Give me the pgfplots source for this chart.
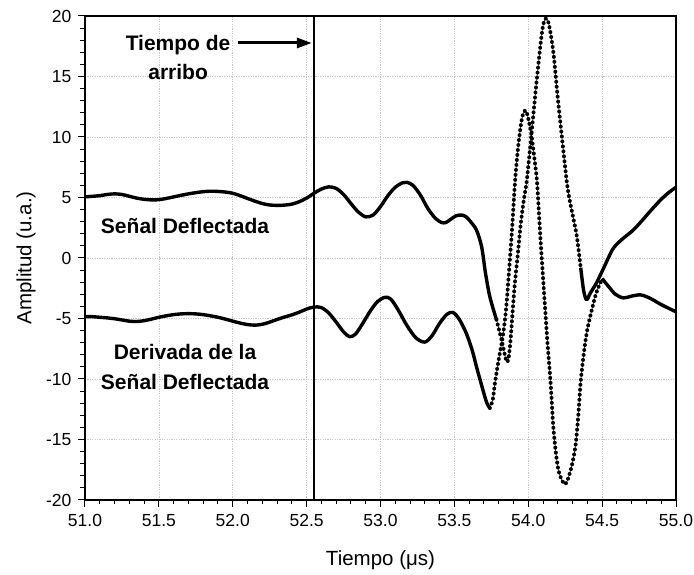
\documentclass[border=0pt]{standalone}
\usepackage{pgfplots}
\pgfplotsset{compat=1.18}
\usepackage{pgfplotstable}
\usepackage{fontspec}
\setmainfont{Liberation Sans}
\usetikzlibrary{arrows.meta}

% Deflected signal (offset +5)
\pgfplotstableread{
t a
51.00 5.05
51.05 5.10
51.10 5.15
51.15 5.25
51.20 5.30
51.25 5.25
51.30 5.10
51.35 4.95
51.40 4.85
51.45 4.80
51.50 4.82
51.55 4.92
51.60 5.05
51.65 5.18
51.70 5.30
51.75 5.40
51.80 5.48
51.85 5.52
51.90 5.50
51.95 5.45
52.00 5.35
52.05 5.15
52.10 4.92
52.15 4.70
52.20 4.50
52.25 4.38
52.30 4.35
52.35 4.37
52.40 4.45
52.45 4.65
52.50 4.95
52.55 5.35
52.60 5.70
52.65 5.88
52.70 5.75
52.75 5.25
52.80 4.50
52.85 3.80
52.90 3.40
52.95 3.55
53.00 4.25
53.05 5.15
53.10 5.85
53.15 6.22
53.18 6.25
53.22 6.00
53.27 5.20
53.32 4.10
53.37 3.30
53.41 2.95
53.44 2.92
53.47 3.15
53.51 3.48
53.55 3.55
53.58 3.40
53.61 3.00
53.65 2.30
53.685 0.90
53.71 -1.20
53.74 -3.20
53.785 -5.10
53.82 -6.80
53.845 -8.20
53.857 -8.60
53.868 -8.20
53.88 -6.80
53.895 -4.30
53.91 -2.00
53.93 0.40
53.95 2.90
53.97 4.80
53.99 6.40
54.02 10.00
54.05 13.80
54.08 17.30
54.10 19.20
54.12 19.80
54.14 19.30
54.17 17.00
54.20 13.20
54.225 10.30
54.26 6.40
54.28 4.80
54.31 3.00
54.33 1.70
54.355 -0.80
54.375 -2.70
54.395 -3.45
54.42 -2.90
54.46 -2.10
54.50 -1.10
54.54 -0.05
54.57 0.70
54.60 1.15
54.65 1.70
54.71 2.30
54.76 2.95
54.81 3.65
54.85 4.20
54.90 4.85
54.95 5.40
55.00 5.85
}\senal

% Derivative of the deflected signal (offset -5)
\pgfplotstableread{
t d
51.00 -4.85
51.05 -4.85
51.10 -4.90
51.15 -4.95
51.20 -5.02
51.25 -5.12
51.30 -5.22
51.35 -5.25
51.40 -5.18
51.45 -5.05
51.50 -4.90
51.55 -4.78
51.60 -4.68
51.65 -4.62
51.70 -4.60
51.75 -4.62
51.80 -4.68
51.85 -4.78
51.90 -4.90
51.95 -5.05
52.00 -5.22
52.05 -5.38
52.10 -5.50
52.15 -5.55
52.20 -5.48
52.25 -5.30
52.30 -5.08
52.35 -4.88
52.40 -4.70
52.45 -4.48
52.50 -4.22
52.55 -4.05
52.60 -4.10
52.65 -4.55
52.70 -5.30
52.75 -6.10
52.79 -6.50
52.83 -6.30
52.88 -5.40
52.93 -4.40
52.98 -3.60
53.03 -3.25
53.07 -3.40
53.12 -4.30
53.18 -5.60
53.24 -6.60
53.30 -6.95
53.35 -6.40
53.40 -5.40
53.45 -4.65
53.49 -4.50
53.53 -5.00
53.58 -6.20
53.62 -7.60
53.65 -9.00
53.70 -11.20
53.72 -12.00
53.74 -12.40
53.76 -11.70
53.775 -10.30
53.80 -8.40
53.83 -6.30
53.85 -4.20
53.865 -1.90
53.89 2.30
53.91 6.20
53.93 9.00
53.95 11.00
53.965 11.90
53.98 12.20
53.995 11.80
54.02 10.30
54.04 8.40
54.06 6.20
54.08 2.10
54.10 -1.60
54.115 -4.30
54.13 -7.00
54.15 -10.10
54.17 -14.00
54.19 -16.40
54.21 -17.80
54.25 -18.70
54.29 -17.40
54.32 -15.50
54.34 -12.80
54.355 -10.20
54.38 -7.50
54.40 -5.90
54.43 -4.30
54.46 -2.90
54.50 -1.70
54.54 -2.30
54.59 -3.00
54.645 -3.30
54.70 -3.15
54.76 -3.05
54.82 -3.30
54.90 -3.85
55.00 -4.45
}\derivada

\begin{document}
\begin{tikzpicture}
\begin{axis}[
  scale only axis,
  width=591pt, height=484pt,
  xmin=51, xmax=55, ymin=-20, ymax=20,
  xtick={51,51.5,52,52.5,53,53.5,54,54.5,55},
  ytick={-20,-15,-10,-5,0,5,10,15,20},
  xtick pos=bottom, ytick pos=left,
  tick align=outside,
  major tick length=7pt,
  tick style={black, line width=1pt},
  axis line style={line width=1.3pt},
  xmajorgrids, ymajorgrids,
  major grid style={gray!45, line width=0.5pt, dash pattern=on 1.2pt off 1.2pt},
  xticklabel style={/pgf/number format/fixed, /pgf/number format/fixed zerofill, /pgf/number format/precision=1, yshift=-4pt},
  yticklabel style={xshift=-3pt},
  /pgf/number format/assume math mode=true,
  tick label style={font=\fontsize{17.5}{20}\selectfont},
  xlabel={Tiempo (μs)},
  ylabel={Amplitud (u.a.)},
  label style={font=\fontsize{20.5}{24}\selectfont},
  xlabel style={at={(axis description cs:0.5,-0.124)}, anchor=center},
  ylabel style={at={(axis description cs:-0.0998,0.5)}, anchor=center},
  solidcurve/.style={black, line width=3.4pt, line join=round, smooth, tension=0.5},
  thincurve/.style={black, line width=0.5pt, smooth, tension=0.5},
  dotcurve/.style={black, line width=4pt, line cap=round, dash pattern=on 0pt off 5pt, smooth, tension=0.5},
]
% deflected signal
\addplot[solidcurve, restrict x to domain=51:53.785] table[x=t, y=a] {\senal};
\addplot[thincurve, restrict x to domain=53.785:54.355] table[x=t, y=a] {\senal};
\addplot[dotcurve, restrict x to domain=53.785:54.355] table[x=t, y=a] {\senal};
\addplot[solidcurve, restrict x to domain=54.355:55] table[x=t, y=a] {\senal};

% derivative
\addplot[solidcurve, restrict x to domain=51:53.74] table[x=t, y=d] {\derivada};
\addplot[thincurve, restrict x to domain=53.74:54.50] table[x=t, y=d] {\derivada};
\addplot[dotcurve, restrict x to domain=53.74:54.50] table[x=t, y=d] {\derivada};
\addplot[solidcurve, restrict x to domain=54.50:55] table[x=t, y=d] {\derivada};

% arrival time marker
\addplot[black, line width=1.8pt] coordinates {(52.55,-20) (52.55,20)};

\node[font=\fontsize{21}{29}\selectfont\bfseries, align=center] at (axis cs:51.63,16.57) {Tiempo de\\arribo};
\draw[black, line width=3pt, -{Triangle[length=15pt,width=10pt]}] (axis cs:52.035,17.77) -- (axis cs:52.535,17.77);
\node[font=\fontsize{21}{29}\selectfont\bfseries] at (axis cs:51.677,2.645) {Señal Deflectada};
\node[font=\fontsize{21}{30}\selectfont\bfseries, align=center] at (axis cs:51.677,-9.0) {Derivada de la\\Señal Deflectada};
\end{axis}
% outward tick marks on the bottom and left frame lines (every 0.1 us and every 1 unit)
\foreach \i in {0,...,40}{
  \pgfmathsetmacro{\len}{ifthenelse(mod(\i,5)==0,7,4.5)}
  \pgfmathsetmacro{\xx}{\i*14.775}
  \pgfmathsetmacro{\yy}{\i*12.1}
  \draw[black, line width=1pt] (\xx pt,0pt) -- (\xx pt,-\len pt);
  \draw[black, line width=1pt] (0pt,\yy pt) -- (-\len pt,\yy pt);
}
\pgfresetboundingbox
\path (-85pt,-75pt) rectangle (609pt,500pt);
\end{tikzpicture}
\end{document}
